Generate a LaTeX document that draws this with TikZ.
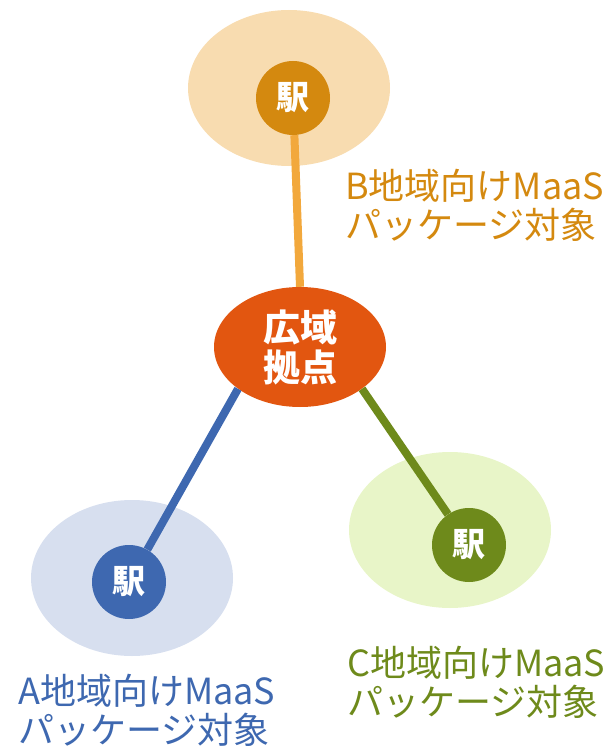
\documentclass[tikz,border=0pt]{standalone}
\usepackage{fontspec}
\setmainfont{Noto Sans CJK JP}
\usetikzlibrary{shapes.geometric}
\definecolor{areaB}{HTML}{F8DCB0}
\definecolor{stB}{HTML}{D4890F}
\definecolor{lnB}{HTML}{F2A83C}
\definecolor{hubc}{HTML}{E25610}
\definecolor{areaA}{HTML}{D7DFEF}
\definecolor{stA}{HTML}{3E68B0}
\definecolor{areaC}{HTML}{E8F5C8}
\definecolor{stC}{HTML}{6E8A1B}
\tikzset{
  area/.style={ellipse, minimum width=202pt, minimum height=156pt, inner sep=0pt},
  station/.style={circle, minimum size=74pt, inner sep=0pt, text=white, font=\bfseries\fontsize{33}{35}\selectfont},
  conn/.style={line width=8pt},
  lbl/.style={anchor=west, inner sep=0pt, align=left, font=\fontsize{36}{39}\selectfont}
}
\begin{document}
\begin{tikzpicture}[x=1pt,y=-1pt]
\useasboundingbox (0,0) rectangle (610,749);
\node[area, fill=areaB] (aB) at (289,88) {};
\node[area, fill=areaA] (aA) at (132,578) {};
\node[area, fill=areaC] (aC) at (450,530) {};
\node[ellipse, fill=hubc, minimum width=172pt, minimum height=120pt, inner sep=0pt, text=white, align=center, font=\bfseries\fontsize{37}{40}\selectfont] (hub) at (300,347) {広域\\拠点};
\node[station, fill=stB] (sB) at (293,98) {駅};
\node[station, fill=stA] (sA) at (129,582) {駅};
\node[station, fill=stC] (sC) at (469,545) {駅};
\draw[conn, lnB] (sB) -- (hub.north);
\draw[conn, stA] (hub.214) -- (sA);
\draw[conn, stC] (hub.326) -- (sC);
\node[lbl, text=stB] (tB) at (345,205) {B地域向けMaaS\\パッケージ対象};
\node[lbl, text=stC] (tC) at (347,682) {C地域向けMaaS\\パッケージ対象};
\node[lbl, text=stA] (tA) at (18,710) {A地域向けMaaS\\パッケージ対象};
\end{tikzpicture}
\end{document}
